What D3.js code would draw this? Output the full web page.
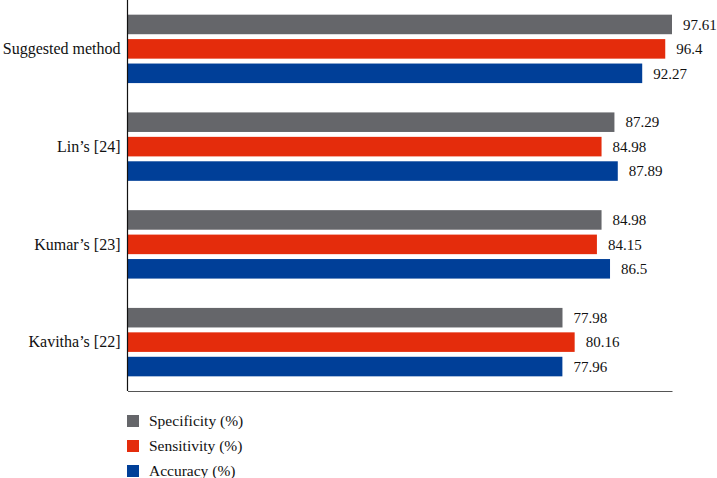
<!DOCTYPE html>
<html>
<head>
<meta charset="utf-8">
<script src="https://cdn.jsdelivr.net/npm/d3@7"></script>
<style>
  html, body { margin: 0; padding: 0; background: #fff; }
  svg { display: block; }
  text { font-family: "Liberation Serif", "Times New Roman", "DejaVu Serif", serif; fill: #111; }
</style>
</head>
<body>
<svg id="chart" width="717" height="478"></svg>
<script>
// ---- data ----
const categories = ["Suggested method", "Lin\u2019s [24]", "Kumar\u2019s [23]", "Kavitha\u2019s [22]"];
const seriesNames = ["Specificity (%)", "Sensitivity (%)", "Accuracy (%)"];
const specificity = [97.61, 87.29, 84.98, 77.98];
const sensitivity = [96.4, 84.98, 84.15, 80.16];
const accuracy = [92.27, 87.89, 86.5, 77.96];
const valueLabels = [
  ["97.61", "96.4", "92.27"],
  ["87.29", "84.98", "87.89"],
  ["84.98", "84.15", "86.5"],
  ["77.98", "80.16", "77.96"]
];
const colors = ["#65666a", "#e42c0c", "#003f98"];

// ---- layout ----
const margin = { left: 127.5, top: 0 };
const plotW = 672 - margin.left;
const plotH = 391 - margin.top;
const serif = '"Liberation Serif", "Times New Roman", "DejaVu Serif", serif';

const svg = d3.select("#chart");
const g = svg.append("g").attr("transform", `translate(${margin.left},${margin.top})`);

const seriesValues = [specificity, sensitivity, accuracy];
const table = categories.map((c, i) => ({
  cat: c,
  vals: seriesNames.map((s, j) => ({ s, j, v: seriesValues[j][i], label: valueLabels[i][j] }))
}));

const y0 = d3.scaleBand().domain(categories).range([0, plotH]).paddingInner(0.3).paddingOuter(0.15);
const y1 = d3.scaleBand().domain(seriesNames).range([0, y0.bandwidth()]).paddingInner(0.2).paddingOuter(0);
const x = d3.scaleLinear().domain([0, d3.max(specificity)]).range([0, plotW]);

const groups = g.selectAll("g.grp").data(table).join("g")
  .attr("class", "grp")
  .attr("transform", d => `translate(0,${y0(d.cat)})`);

groups.selectAll("rect").data(d => d.vals).join("rect")
  .attr("x", 0)
  .attr("y", d => y1(d.s))
  .attr("width", d => x(d.v))
  .attr("height", y1.bandwidth())
  .attr("fill", d => colors[d.j]);

groups.selectAll("text.val").data(d => d.vals).join("text")
  .attr("class", "val")
  .attr("x", d => x(d.v) + 11)
  .attr("y", d => y1(d.s) + y1.bandwidth() / 2)
  .attr("dy", "0.35em")
  .style("font-family", serif)
  .style("font-size", "15px")
  .text(d => d.label);

// axes
const yAxis = g.append("g")
  .call(d3.axisLeft(y0).tickSize(0).tickPadding(7).tickSizeOuter(0));
yAxis.select(".domain").remove();
yAxis.selectAll("text")
  .style("font-family", serif).style("font-size", "16px")
  .attr("fill", "#111").attr("dy", "0.32em");

const xAxis = g.append("g")
  .attr("transform", `translate(0,${plotH})`)
  .call(d3.axisBottom(x).ticks(0).tickSize(0).tickSizeOuter(0));
xAxis.selectAll(".tick").remove();
xAxis.select(".domain").attr("stroke", "#555").attr("stroke-width", 1.2);

g.append("line")
  .attr("x1", 0).attr("x2", 0).attr("y1", 0).attr("y2", plotH)
  .attr("stroke", "#111").attr("stroke-width", 1.2);

// legend
const legend = svg.append("g").attr("transform", "translate(127,415)");
const li = legend.selectAll("g").data(seriesNames).join("g")
  .attr("transform", (d, i) => `translate(0,${i * 25})`);
li.append("rect").attr("width", 12).attr("height", 12).attr("fill", (d, i) => colors[i]);
li.append("text").attr("x", 22).attr("y", 6).attr("dy", "0.35em")
  .style("font-family", serif).style("font-size", "15.5px").text(d => d);
</script>
</body>
</html>
